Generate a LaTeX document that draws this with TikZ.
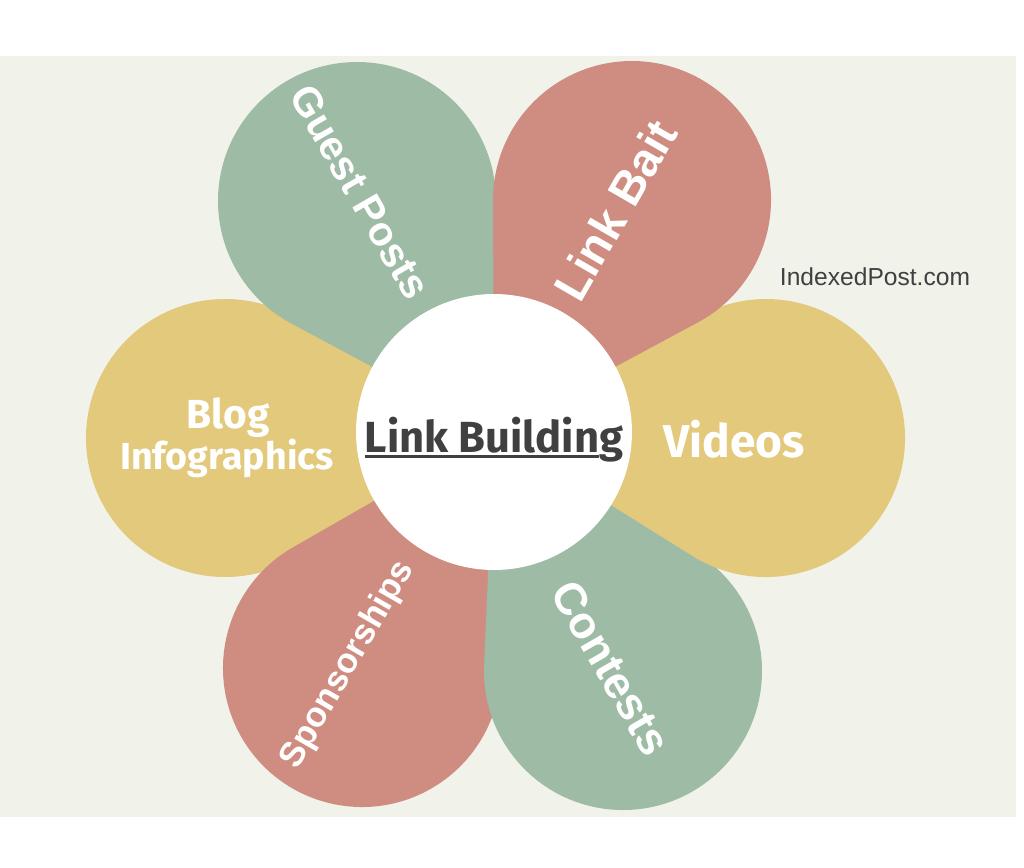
\documentclass[tikz,border=0pt]{standalone}
\usepackage{fontspec}
\setmainfont{Liberation Sans}
\newfontfamily\firafont{Fira Sans}
\usetikzlibrary{calc}
\definecolor{bgbeige}{HTML}{F1F2EA}
\definecolor{petalgreen}{HTML}{9DBBA5}
\definecolor{petalred}{HTML}{CF8C80}
\definecolor{petalyellow}{HTML}{E3C97B}
\definecolor{inkgray}{HTML}{404040}
\tikzset{
  petal/.style={fill=#1},
  lbl/.style={text=white, inner sep=0pt},
}
\newcommand\ulpart[1]{\setbox0\hbox{#1}\rlap{\rule[-0.14em]{\wd0}{0.07em}}\box0}

\begin{document}
\begin{tikzpicture}[x=0.02cm, y=-0.02cm]
  \useasboundingbox (0,0) rectangle (1024,867);
  \fill[white] (0,0) rectangle (1024,867);
  \fill[bgbeige] (0,56) rectangle (1016,817);
  \coordinate (ctr) at (494,432);
  % petals: circle + tip at the hub, lowest one first
  \foreach \px/\py/\col in {225/438/petalyellow, 357/201/petalgreen, 362/668/petalred,
                            623/671/petalgreen, 766/438/petalyellow, 632/200/petalred} {
    \pgfmathsetmacro\bet{atan2(432-\py,494-\px)}
    \pgfmathsetmacro\gam{acos(139/veclen(494-\px,432-\py))}
    \fill[petal=\col] ($(\px,\py)+(\bet+\gam:139)$) -- (ctr) -- ($(\px,\py)+(\bet-\gam:139)$)
      arc[start angle=\bet-\gam, end angle=\bet+\gam-360, radius=139] -- cycle;
  }
  \node[circle, fill=white, minimum size=5.52cm] (hub) at (ctr) {};
  \node[anchor=base, text=inkgray, font=\firafont\bfseries\fontsize{24.8}{28}\selectfont] (title) at (494,452) {\ulpart{Link Buildin}g};

  \node[lbl, rotate=-60, font=\bfseries\fontsize{23.3}{28}\selectfont] (guest) at (360,192) {Guest Posts};
  \node[lbl, rotate=60, font=\bfseries\fontsize{26.7}{30}\selectfont] (bait) at (615,210) {Link Bait};
  \node[lbl, anchor=base, font=\firafont\bfseries\fontsize{26.2}{30}\selectfont] (videos) at (734,457) {Videos};
  \node[lbl, rotate=-60, font=\bfseries\fontsize{25.6}{30}\selectfont] (contests) at (611,668) {Contests};
  \node[lbl, rotate=60, font=\bfseries\fontsize{19.9}{24}\selectfont] (sponsor) at (348,665) {Sponsorships};
  \node[lbl, anchor=base, font=\firafont\bfseries\fontsize{23.1}{28}\selectfont] (blog) at (228,428) {Blog};
  \node[lbl, anchor=base, font=\firafont\bfseries\fontsize{21.4}{26}\selectfont] (infog) at (227,469) {Infographics};

  \node[anchor=base, text=inkgray, font=\fontsize{14}{17}\selectfont] (site) at (875,285) {IndexedPost.com};
\end{tikzpicture}
\end{document}
